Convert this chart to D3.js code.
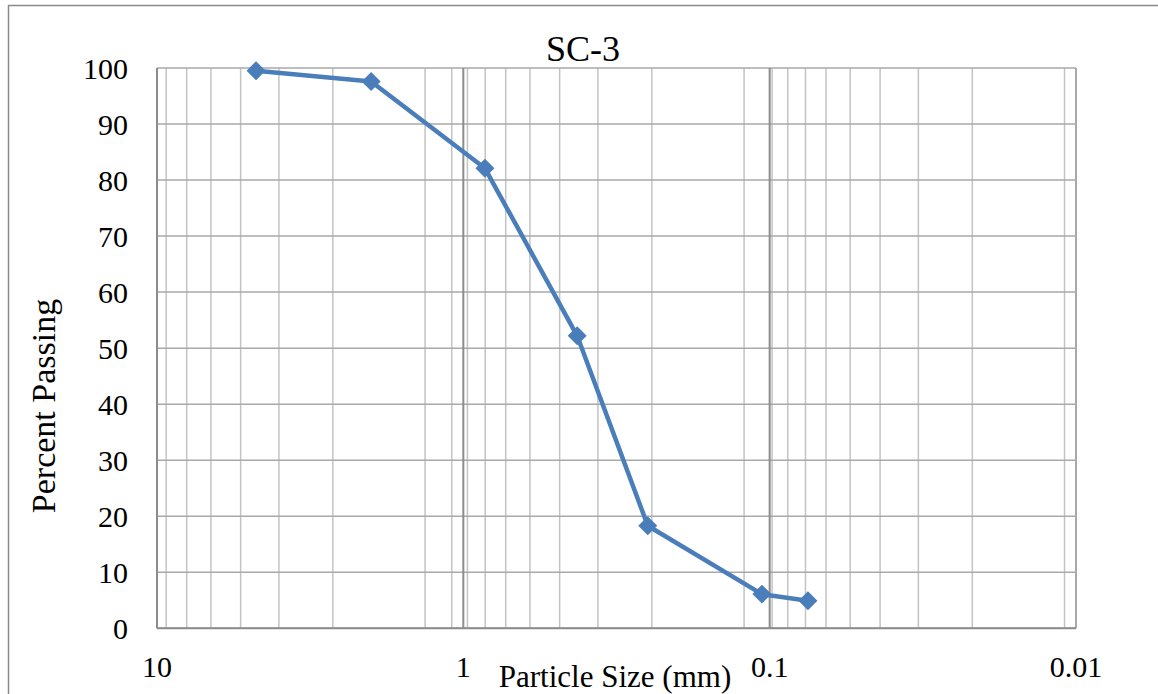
<!DOCTYPE html>
<html>
<head>
<meta charset="utf-8">
<script src="https://cdn.jsdelivr.net/npm/d3@7"></script>
<style>
  body { margin: 0; background: #fff; }
  text { font-family: "Liberation Serif", "Times New Roman", serif; fill: #000; }
</style>
</head>
<body>
<div id="chart"></div>
<script>
const svgWidth = 1158;
const svgHeight = 694;

// sieve data: particle size (mm) and percent passing
const sizes = [4.75, 2.0, 0.85, 0.425, 0.25, 0.106, 0.075];
const passing = [99.5, 97.6, 82.1, 52.2, 18.3, 6.1, 4.9];

const majorTicks = [10, 1, 0.1, 0.01];
const majorLabels = ["10", "1", "0.1", "0.01"];
const minorTicks = [9.333, 8, 6.667, 5.333, 4, 2.667, 1.333,
  1.0909, 0.9697, 0.8485, 0.7273, 0.6061, 0.4848, 0.3636, 0.2424, 0.1212,
  0.0982, 0.0873, 0.0764, 0.0655, 0.0546, 0.0436, 0.0327, 0.0218, 0.0109];
const yTicks = [0, 10, 20, 30, 40, 50, 60, 70, 80, 90, 100];

const plot = { left: 157, right: 1076, top: 68, bottom: 628.3 };

const svg = d3.select("#chart")
  .append("svg")
  .attr("width", svgWidth)
  .attr("height", svgHeight);

// outer frame (left and top edges visible)
svg.append("path")
  .attr("d", "M8.5,694 V5.5 H1158")
  .attr("fill", "none")
  .attr("stroke", "#8a8a8a")
  .attr("stroke-width", 1.5);

const x = d3.scaleLog().domain([10, 0.01]).range([plot.left, plot.right]);
const y = d3.scaleLinear().domain([0, 100]).range([plot.bottom, plot.top]);

// minor vertical gridlines
svg.append("g").selectAll("line")
  .data(minorTicks)
  .enter().append("line")
  .attr("x1", d => x(d)).attr("x2", d => x(d))
  .attr("y1", plot.top).attr("y2", plot.bottom)
  .attr("stroke", "#c3c3c3")
  .attr("stroke-width", 1.5);

// horizontal gridlines
svg.append("g").selectAll("line")
  .data(yTicks)
  .enter().append("line")
  .attr("x1", plot.left).attr("x2", plot.right)
  .attr("y1", d => y(d)).attr("y2", d => y(d))
  .attr("stroke", "#a9a9a9")
  .attr("stroke-width", 1.5);

// major vertical gridlines
svg.append("g").selectAll("line")
  .data(majorTicks)
  .enter().append("line")
  .attr("x1", d => x(d)).attr("x2", d => x(d))
  .attr("y1", plot.top).attr("y2", plot.bottom)
  .attr("stroke", (d, i) => (i === 0 || i === 3) ? "#a9a9a9" : "#8c8c8c")
  .attr("stroke-width", 2);

// axis lines
svg.append("line")
  .attr("x1", plot.left).attr("x2", plot.right)
  .attr("y1", plot.bottom).attr("y2", plot.bottom)
  .attr("stroke", "#8c8c8c").attr("stroke-width", 2);
svg.append("line")
  .attr("x1", plot.left).attr("x2", plot.left)
  .attr("y1", plot.top).attr("y2", plot.bottom)
  .attr("stroke", "#8c8c8c").attr("stroke-width", 2);

// y tick labels
svg.append("g").selectAll("text")
  .data(yTicks)
  .enter().append("text")
  .attr("x", plot.left - 29)
  .attr("y", d => y(d))
  .attr("dy", "0.35em")
  .attr("text-anchor", "end")
  .style("font-size", "30px")
  .text(d => d);

// x tick labels
svg.append("g").selectAll("text")
  .data(majorTicks)
  .enter().append("text")
  .attr("x", d => x(d))
  .attr("y", 666)
  .attr("dy", "0.35em")
  .attr("text-anchor", "middle")
  .style("font-size", "30px")
  .text((d, i) => majorLabels[i]);

// titles
svg.append("text")
  .attr("x", 583).attr("y", 61)
  .attr("text-anchor", "middle")
  .style("font-size", "36px")
  .text("SC-3");

svg.append("text")
  .attr("x", 615).attr("y", 687)
  .attr("text-anchor", "middle")
  .style("font-size", "31px")
  .text("Particle Size (mm)");

svg.append("text")
  .attr("transform", "translate(55,406) rotate(-90)")
  .attr("text-anchor", "middle")
  .style("font-size", "34px")
  .text("Percent Passing");

// data line
const pts = sizes.map((s, i) => ({ s, p: passing[i] }));
const line = d3.line().x(d => x(d.s)).y(d => y(d.p));

svg.append("path")
  .datum(pts)
  .attr("d", line)
  .attr("fill", "none")
  .attr("stroke", "#4a7ebb")
  .attr("stroke-width", 4.5)
  .attr("stroke-linejoin", "round");

svg.append("g").selectAll("path")
  .data(pts)
  .enter().append("path")
  .attr("d", d3.symbol().type(d3.symbolSquare).size(180))
  .attr("transform", d => `translate(${x(d.s)},${y(d.p)}) rotate(45)`)
  .attr("fill", "#4a7ebb");
</script>
</body>
</html>
